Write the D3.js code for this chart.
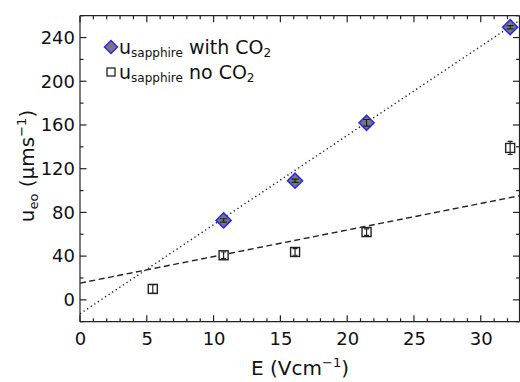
<!DOCTYPE html>
<html><head><meta charset="utf-8">
<script src="https://cdn.jsdelivr.net/npm/d3@7"></script>
<style>body{margin:0;background:#fff}svg{display:block}text{font-family:"DejaVu Sans",sans-serif;fill:#111}</style>
</head><body><svg id="c" width="520" height="382"></svg>
<script>
const withE = [10.75, 16.1, 21.45, 32.2];
const withU = [72.7, 109, 162, 249.5];
const withErr = [1.5, 1.5, 3, 1.5];
const noE = [5.45, 10.75, 16.1, 21.45, 32.2];
const noU = [10, 40.8, 43.8, 62, 139];
const noErr = [4, 3, 3, 3, 6];
const fitWith = [-12.8, 8.16]; // intercept, slope
const fitNo = [15.3, 2.43];
const xTicks = [0, 5, 10, 15, 20, 25, 30];
const yTicks = [0, 40, 80, 120, 160, 200, 240];

const svg = d3.select("#c");
const L = 80, R = 519.5, T = 15.7, B = 321.7;
const x = d3.scaleLinear().domain([0, 32.9]).range([L, R]);
const y = d3.scaleLinear().domain([-20, 260]).range([B, T]);
const FONT = "DejaVu Sans";

const g = svg.append("g");
svg.append("defs").append("clipPath").attr("id","clip").append("rect").attr("x",L).attr("y",T).attr("width",R-L).attr("height",B-T);

const ax = g.append("g").attr("stroke","#222").attr("stroke-width",1.2);
ax.append("line").attr("x1",L).attr("x2",R).attr("y1",B).attr("y2",B);
ax.append("line").attr("x1",L).attr("x2",R).attr("y1",T).attr("y2",T);
ax.append("line").attr("x1",L).attr("x2",L).attr("y1",T).attr("y2",B);
ax.append("line").attr("x1",R).attr("x2",R).attr("y1",T).attr("y2",B);
d3.range(0, 33, 1).forEach(v=>{
  const len = v%5===0 ? 6.5 : 3.5;
  ax.append("line").attr("x1",x(v)).attr("x2",x(v)).attr("y1",B).attr("y2",B-len);
  ax.append("line").attr("x1",x(v)).attr("x2",x(v)).attr("y1",T).attr("y2",T+len);
});
d3.range(-20, 261, 20).forEach(v=>{
  const len = yTicks.includes(v) ? 6.5 : 3.5;
  ax.append("line").attr("y1",y(v)).attr("y2",y(v)).attr("x1",L).attr("x2",L+len);
  ax.append("line").attr("y1",y(v)).attr("y2",y(v)).attr("x1",R).attr("x2",R-len);
});

const xa = d3.axisBottom(x).tickValues(xTicks).tickSize(0).tickPadding(11);
g.append("g").attr("transform",`translate(0,${B})`).call(xa).call(s=>{s.select(".domain").remove();s.selectAll("text").attr("font-size",18).attr("font-family",FONT).attr("fill","#111");});
const ya = d3.axisLeft(y).tickValues(yTicks).tickSize(0).tickPadding(5);
g.append("g").attr("transform",`translate(${L},0)`).call(ya).call(s=>{s.select(".domain").remove();s.selectAll("text").attr("font-size",18).attr("font-family",FONT).attr("fill","#111");});

const pg = svg.append("g").attr("clip-path","url(#clip)");
const line = d3.line().x(d=>x(d[0])).y(d=>y(d[1]));
pg.append("path").datum([[0,fitWith[0]],[33,fitWith[0]+fitWith[1]*33]]).attr("d",line)
  .attr("stroke","#222").attr("stroke-width",1.4).attr("stroke-dasharray","1.3,3").attr("fill","none");
pg.append("path").datum([[0,fitNo[0]],[33,fitNo[0]+fitNo[1]*33]]).attr("d",line)
  .attr("stroke","#222").attr("stroke-width",1.4).attr("stroke-dasharray","6,3.5").attr("fill","none");

function errBar(cx, v, e, w){
  const grp = pg.append("g").attr("stroke","#222").attr("stroke-width",1.2);
  grp.append("line").attr("x1",cx).attr("x2",cx).attr("y1",y(v-e)).attr("y2",y(v+e));
  grp.append("line").attr("x1",cx-w).attr("x2",cx+w).attr("y1",y(v-e)).attr("y2",y(v-e));
  grp.append("line").attr("x1",cx-w).attr("x2",cx+w).attr("y1",y(v+e)).attr("y2",y(v+e));
}
const sq = 4.5;
noE.forEach((e,i)=>{
  const cx=x(e), cy=y(noU[i]);
  pg.append("rect").attr("x",cx-sq).attr("y",cy-sq).attr("width",2*sq).attr("height",2*sq)
    .attr("fill","#fff").attr("stroke","#222").attr("stroke-width",1.4);
  errBar(cx, noU[i], noErr[i], 2.5);
});
const dm = 7.5;
withE.forEach((e,i)=>{
  const cx=x(e), cy=y(withU[i]);
  pg.append("path").attr("d",`M${cx},${cy-dm}L${cx+dm},${cy}L${cx},${cy+dm}L${cx-dm},${cy}Z`)
    .attr("fill","#777").attr("stroke","#2a2af0").attr("stroke-width",1.6);
  errBar(cx, withU[i], withErr[i], 3.5);
});

const lg = svg.append("g");
{
  const cx=111, cy=47, d=6.5;
  lg.append("path").attr("d",`M${cx},${cy-d}L${cx+d},${cy}L${cx},${cy+d}L${cx-d},${cy}Z`).attr("fill","#777").attr("stroke","#2a2af0").attr("stroke-width",1.5);
  const t = lg.append("text").attr("x",119).attr("y",54).attr("font-size",19);
  t.append("tspan").text("u");
  t.append("tspan").attr("font-size",12).attr("dy",3).text("sapphire");
  t.append("tspan").attr("dy",-3).text(" with CO");
  t.append("tspan").attr("font-size",12).attr("dy",3).text("2");
  lg.append("rect").attr("x",107).attr("y",68).attr("width",8).attr("height",8).attr("fill","#fff").attr("stroke","#222").attr("stroke-width",1.3);
  const t2 = lg.append("text").attr("x",119).attr("y",79).attr("font-size",19);
  t2.append("tspan").text("u");
  t2.append("tspan").attr("font-size",12).attr("dy",3).text("sapphire");
  t2.append("tspan").attr("dy",-3).text(" no CO");
  t2.append("tspan").attr("font-size",12).attr("dy",3).text("2");
}

const xt = svg.append("text").attr("x",300).attr("y",375).attr("text-anchor","middle").attr("font-size",20);
xt.append("tspan").text("E (Vcm");
xt.append("tspan").attr("font-size",13).attr("dy",-8).text("−1");
xt.append("tspan").attr("dy",8).text(")");
const yt = svg.append("text").attr("transform","translate(34,166) rotate(-90)").attr("text-anchor","middle").attr("font-size",20);
yt.append("tspan").text("u");
yt.append("tspan").attr("font-size",13).attr("dy",4).text("eo");
yt.append("tspan").attr("dy",-4).text(" (μms");
yt.append("tspan").attr("font-size",13).attr("dy",-8).text("−1");
yt.append("tspan").attr("dy",8).text(")");
</script></body></html>
